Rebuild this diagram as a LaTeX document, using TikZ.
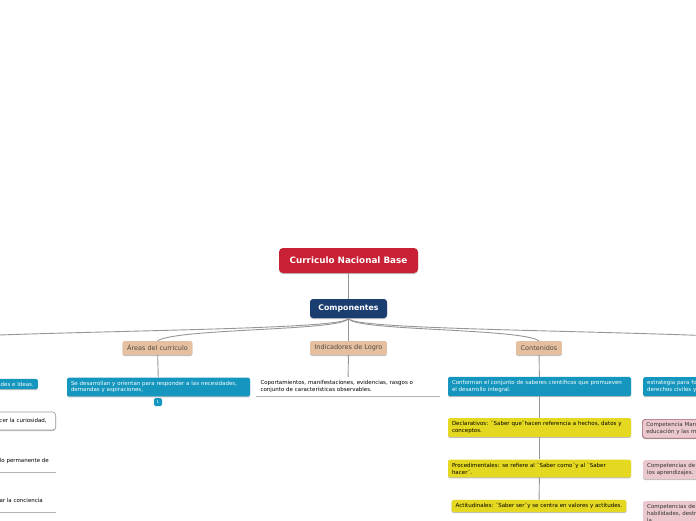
\documentclass[tikz,border=0pt]{standalone}
\usepackage{fontspec}
\setmainfont{DejaVu Sans}
\usepackage{tikz}
\usetikzlibrary{shadows}

\definecolor{rootred}{RGB}{200,32,52}
\definecolor{compblue}{RGB}{27,62,112}
\definecolor{topictan}{RGB}{228,192,160}
\definecolor{topictext}{RGB}{85,72,62}
\definecolor{tealbox}{RGB}{20,150,190}
\definecolor{yellowbox}{RGB}{228,216,32}
\definecolor{pinkbox}{RGB}{234,200,206}
\definecolor{pinkline}{RGB}{160,100,112}
\definecolor{linkgray}{RGB}{150,150,150}

\begin{document}
\begin{tikzpicture}[
  x=1pt, y=-1pt,
  every node/.style={font=\fontsize{5.5}{6.9}\selectfont, inner sep=0pt},
  shade/.style={drop shadow={shadow xshift=0pt, shadow yshift=-1pt, fill=black!25, opacity=1}},
  rootbox/.style={fill=rootred, rounded corners=4pt, text=white, font=\fontsize{8.8}{10}\selectfont\bfseries, minimum width=139pt, minimum height=25pt, shade},
  compbox/.style={fill=compblue, rounded corners=3pt, text=white, font=\fontsize{7.8}{9}\selectfont\bfseries, minimum width=77pt, minimum height=19pt, shade},
  topicbox/.style={fill=topictan, rounded corners=1.5pt, text=topictext, font=\fontsize{6.5}{7.5}\selectfont, inner xsep=4.5pt, minimum height=14pt, shade},
  leafcore/.style={rounded corners=1.5pt, align=left, inner xsep=4pt, inner ysep=3.3pt, shade},
  leafbox/.style={leafcore, text width=175pt},
  tealleaf/.style={leafbox, fill=tealbox, text=white},
  yellowleaf/.style={leafbox, fill=yellowbox, text=black},
  pinkleaf/.style={leafbox, fill=pinkbox, text=black!80},
  underline/.style={append after command={(\tikzlastnode.south west) edge[draw=black!30, line width=0.8pt] (\tikzlastnode.south east)}},
  underleaf/.style={text width=175pt, align=left, inner xsep=4.5pt, inner ysep=3.3pt, text=black, underline},
  link/.style={draw=linkgray, line width=0.9pt}
]
  \useasboundingbox (0,0) rectangle (696,520);
  \clip (0,0) rectangle (696,520);

  % Central topic
  \node[rootbox] (root) at (348.5,260.5) {Curriculo Nacional Base};
  \node[compbox] (comp) at (348.5,308.5) {Componentes};

  % Main branches
  \node[topicbox] (areas) at (157.5,348) {Áreas del curriculo};
  \node[topicbox] (indic) at (348.5,348) {Indicadores de Logro};
  \node[topicbox] (conten) at (539,348) {Contenidos};
  \coordinate (offleft) at (-170,346);
  \coordinate (offright) at (860,346);

  % Areas
  \node[tealleaf] (areasleaf) at (158.5,387) {Se desarrollan y orientan para responder a las necesidades,\\demandas y aspiraciones,};
  \node[fill=tealbox, text=white, rounded corners=1.5pt, minimum width=8pt, minimum height=8pt, font=\fontsize{4}{4}\selectfont] (badge) at (158,402) {1};

  % Indicadores
  \node[underleaf] (indicleaf) at (348,386.5) {Coportamientos, manifestaciones, evidencias, rasgos o\\conjunto de características observables.};

  % Contenidos
  \node[tealleaf] (contleaf) at (539.5,386.5) {Conforman el conjunto de saberes científicos que promueven\\el desarrollo integral.};
  \node[yellowleaf] (decl) at (539.5,427.5) {Declarativos: ¨Saber que¨hacen referencia a hechos, datos y\\conceptos.};
  \node[yellowleaf] (proc) at (539.5,468.5) {Procedimentales: se refiere al ¨Saber como¨y al ¨Saber\\hacer¨.};
  \node[leafcore, fill=yellowbox, inner ysep=3.5pt] (actit) at (539,506) {Actitudinales: ¨Saber ser¨y se centra en valores y actitudes.};

  % Right column (cut by the edge)
  \node[tealleaf, anchor=north west] (rteal) at (643,377) {estrategia para formar\\derechos civiles y sociales};
  \node[pinkleaf, anchor=north west, draw=pinkline, line width=0.7pt, rounded corners=3pt] (rmarco) at (642,419) {Competencia Marco:\\educación y las metas};
  \node[pinkleaf, anchor=north west] (reje) at (643,460) {Competencias de Eje\\los aprendizajes.};
  \node[pinkleaf, anchor=north west] (rgrado) at (643,501) {Competencias de Grado\\habilidades, destrezas\\la};

  % Left column (cut by the edge)
  \node[leafcore, fill=tealbox, text=white, anchor=east, inner ysep=3pt] (lteal) at (38,384) {necesidades e Ideas.};
  \node[leafcore, anchor=east, draw=black!40, line width=0.6pt, rounded corners=3pt, minimum height=18pt, inner xsep=9pt, fill=white] (lbox) at (56,421) {Favorecer la curiosidad,};
  \node[align=left, inner xsep=7pt, inner ysep=1pt, text depth=8pt, anchor=south east, underline] (lperm) at (56,472) {Desarrollo permanente de};
  \node[align=left, inner xsep=13pt, inner ysep=1pt, text depth=8pt, anchor=south east, underline] (lconc) at (56,512) {Fomentar la conciencia};

  % Connectors
  \draw[link] (root) -- (comp);
  \draw[link] (comp.south) .. controls (348,333) and (-60,329) .. (offleft);
  \draw[link] (comp.south) .. controls (346,331) and (178,328) .. (areas.north);
  \draw[link] (comp.south) -- (indic.north);
  \draw[link] (comp.south) .. controls (350,331) and (520,328) .. (conten.north);
  \draw[link] (comp.south) .. controls (348,333) and (740,329) .. (offright);
  \draw[link] (areas) -- (areasleaf);
  \draw[link] (indic) -- (indicleaf);
  \draw[link] (conten) -- (contleaf);
  \draw[link] (contleaf) -- (decl);
  \draw[link] (decl) -- (proc);
  \draw[link] (proc) -- (actit);

\end{tikzpicture}
\end{document}
